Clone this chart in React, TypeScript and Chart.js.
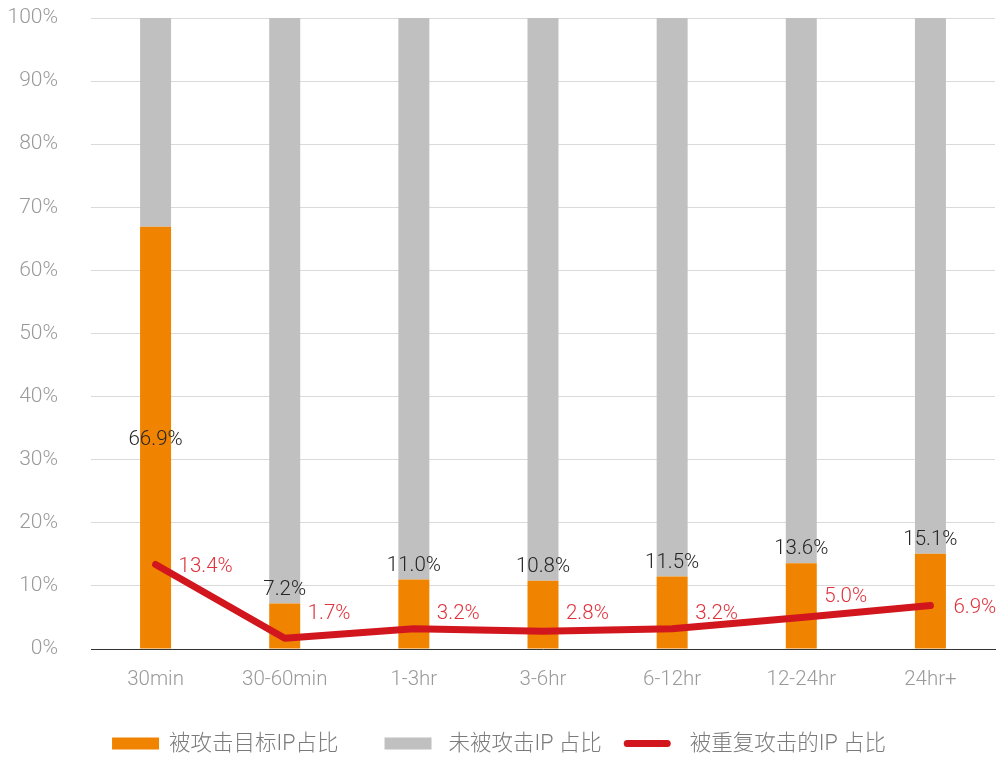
import React, { useEffect, useRef } from "react";
import { Chart, registerables } from "chart.js";

Chart.register(...registerables);

const categories = ["30min", "30-60min", "1-3hr", "3-6hr", "6-12hr", "12-24hr", "24hr+"];
const attackedShare = [66.9, 7.2, 11.0, 10.8, 11.5, 13.6, 15.1];
const notAttackedShare = [33.1, 92.8, 89.0, 89.2, 88.5, 86.4, 84.9];
const repeatedShare = [13.4, 1.7, 3.2, 2.8, 3.2, 5.0, 6.9];
const seriesNames = ["被攻击目标IP占比", "未被攻击IP 占比", "被重复攻击的IP 占比"];

const ORANGE = "#F08300";
const GRAY = "#BFC0BF";
const RED = "#D2161E";
const LABEL_RED = "#E0323C";
const FONT = 'Roboto, "Noto Sans CJK SC", sans-serif';

const labelPlugin = {
  id: "valueLabels",
  afterDatasetsDraw(chart: any) {
    const ctx = chart.ctx;
    const area = chart.chartArea;
    ctx.save();
    ctx.font = `300 20.5px ${FONT}`;
    ctx.textBaseline = "middle";
    const bars = chart.getDatasetMeta(0);
    bars.data.forEach((bar: any, i: number) => {
      const { x, y, base } = bar.getProps(["x", "y", "base"], true);
      ctx.fillStyle = "#262626";
      ctx.textAlign = "center";
      const ly = base - y > 100 ? (y + base) / 2 : y - 16;
      ctx.fillText(attackedShare[i].toFixed(1) + "%", x, ly + 2);
    });
    const line = chart.getDatasetMeta(2);
    const pts = line.data.map((pt: any) => pt.getProps(["x", "y"], true));
    pts.forEach((p: any, i: number) => {
      const text = repeatedShare[i].toFixed(1) + "%";
      const w = ctx.measureText(text).width;
      let ly = Math.min(p.y, area.bottom - 37);
      const next = pts[i + 1];
      if (next) {
        const endX = p.x + 23 + w;
        const lineY = p.y + ((next.y - p.y) * (endX - p.x)) / (next.x - p.x);
        const lineTop = lineY - 3.5;
        if (lineTop < ly + 7 - 2) ly = lineTop - 13;
      }
      ctx.fillStyle = LABEL_RED;
      ctx.textAlign = "left";
      ctx.fillText(text, p.x + 23, ly + 2);
    });
    ctx.restore();
  },
};

const legendPlugin = {
  id: "customLegend",
  afterDraw(chart: any) {
    const ctx = chart.ctx;
    ctx.save();
    ctx.font = `300 21.5px ${FONT}`;
    ctx.textBaseline = "middle";
    ctx.textAlign = "left";
    const boxW = 47;
    const gaps = [10, 17, 19];
    const itemGaps = [46, 22];
    const widths = seriesNames.map((n, i) => boxW + gaps[i] + ctx.measureText(n).width);
    const total = widths.reduce((a, b) => a + b, 0) + itemGaps[0] + itemGaps[1];
    let x = (chart.width - total) / 2;
    const cy = 743.5;
    seriesNames.forEach((name, i) => {
      if (i === 0 || i === 1) {
        ctx.fillStyle = i === 0 ? ORANGE : GRAY;
        ctx.fillRect(x, cy - 6, boxW, 12);
      } else {
        ctx.strokeStyle = RED;
        ctx.lineWidth = 7;
        ctx.lineCap = "round";
        ctx.beginPath();
        ctx.moveTo(x + 3.5, cy);
        ctx.lineTo(x + boxW - 3.5, cy);
        ctx.stroke();
      }
      ctx.fillStyle = "#7A7A7A";
      ctx.fillText(name, x + boxW + gaps[i], cy + 1);
      x += widths[i] + (itemGaps[i] || 0);
    });
    ctx.restore();
  },
};

export default function App() {
  const ref = useRef<HTMLCanvasElement | null>(null);
  useEffect(() => {
    if (!ref.current) return;
    const chart = new Chart(ref.current, {
      type: "bar",
      data: {
        labels: categories,
        datasets: [
          {
            type: "bar",
            label: seriesNames[0],
            data: attackedShare,
            backgroundColor: ORANGE,
            stack: "share",
            order: 2,
            categoryPercentage: 1,
            barPercentage: 0.24,
          },
          {
            type: "bar",
            label: seriesNames[1],
            data: notAttackedShare,
            backgroundColor: GRAY,
            stack: "share",
            order: 2,
            categoryPercentage: 1,
            barPercentage: 0.24,
          },
          {
            type: "line",
            label: seriesNames[2],
            data: repeatedShare,
            borderColor: RED,
            backgroundColor: RED,
            borderWidth: 7,
            borderCapStyle: "round",
            borderJoinStyle: "round",
            pointRadius: 0,
            tension: 0,
            stack: "line",
            order: 0,
          } as any,
        ],
      },
      options: {
        animation: false,
        responsive: true,
        maintainAspectRatio: false,
        layout: { padding: { top: 18, right: 3, bottom: 59, left: 0 } },
        plugins: {
          legend: { display: false },
          tooltip: { enabled: false },
        },
        scales: {
          x: {
            stacked: true,
            grid: { display: false, drawTicks: false },
            border: { display: true, color: "#333333", width: 1 },
            ticks: { color: "#9A9A9A", font: { family: FONT, size: 20.5, weight: "300" as any }, padding: 19, maxRotation: 0 },
            afterFit: (s: any) => { s.height = 50; },
          },
          y: {
            stacked: true,
            min: 0,
            max: 100,
            grid: { color: "#DADADA", drawTicks: true, tickLength: 33, tickColor: "rgba(0,0,0,0)", lineWidth: 1 },
            border: { display: false },
            ticks: {
              stepSize: 10,
              color: "#9A9A9A",
              font: { family: FONT, size: 21, weight: "300" as any },
              padding: 0,
              callback: (v: any) => v + "%",
            },
            afterFit: (s: any) => { s.width = 91; },
          },
        },
      },
      plugins: [labelPlugin, legendPlugin],
    });
    return () => chart.destroy();
  }, []);
  return (
    <div style={{ position: "fixed", left: 0, top: 0, width: 998, height: 758, background: "#fff" }}>
      <canvas ref={ref} />
    </div>
  );
}
